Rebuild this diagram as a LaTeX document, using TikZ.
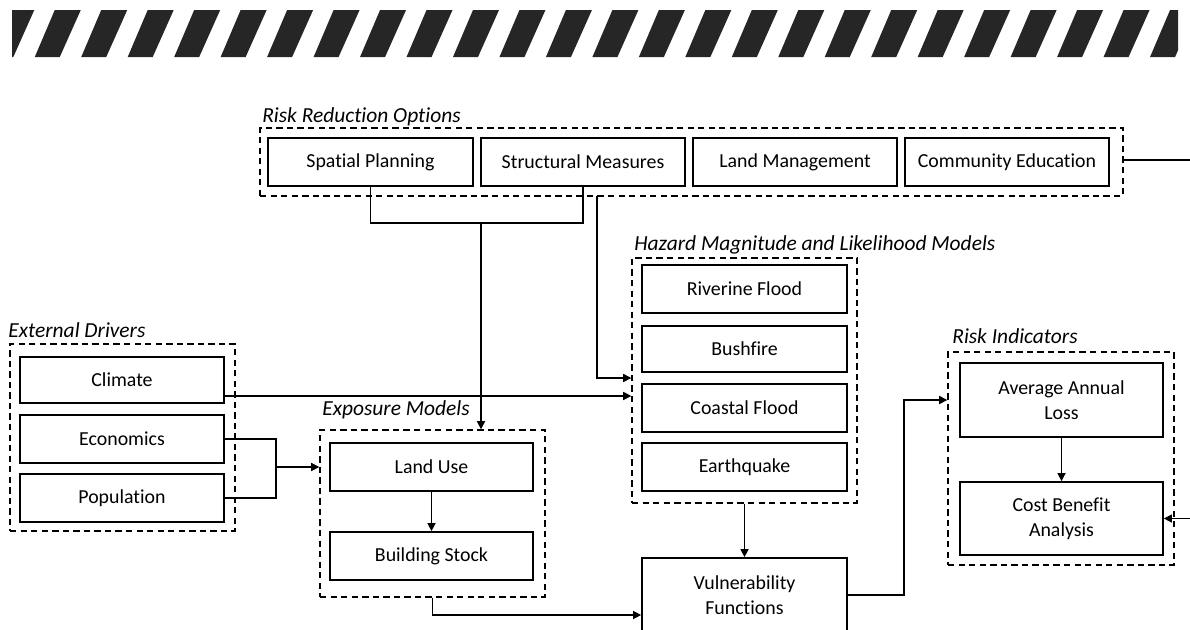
\documentclass[tikz,border=0pt]{standalone}
\usepackage{fontspec}
\setmainfont{Carlito}[Ligatures=NoCommon]
\usepackage{tikz}
\usetikzlibrary{arrows.meta,positioning,calc}
\tikzset{
  riskarrow/.style={-{Triangle[length=4.6pt,width=4.6pt]}, line width=0.8pt},
  risklink/.style={line width=0.8pt},
  grouplabel/.style={font=\fontsize{12.2}{14}\selectfont\itshape, anchor=base west, inner sep=0pt}
}
\definecolor{StripeGrey}{HTML}{262626}

\begin{document}
\begin{tikzpicture}[
  x=0.02cm, y=-0.02cm,
  font=\fontsize{11.3}{14}\selectfont,
  cell/.style={draw, line width=1pt, align=center, minimum width=4.1cm, minimum height=0.96cm, inner sep=2pt},
  group/.style={draw, line width=0.85pt, dash pattern=on 3.6pt off 2.4pt}
]
\useasboundingbox (0,0) rectangle (1190,629);

% hatched band along the top
\begin{scope}
  \clip (12,10) rectangle (1178,57);
  \foreach \k in {0,...,25}
    \fill[StripeGrey] ({-11.7+46.47*\k},57) -- ({13.3+46.47*\k},57) -- ({34.3+46.47*\k},10) -- ({8.3+46.47*\k},10) -- cycle;
\end{scope}

% Risk reduction options
\node[group, minimum width=17.26cm, minimum height=1.36cm] at (691.5,162) (rro) {};
\node[grouplabel] at (262,122) (rrolabel) {Risk Reduction Options};
\node[cell] at (370.5,162) (spatial) {Spatial Planning};
\node[cell, minimum width=4.08cm] at (583,162) (structural) {Structural Measures};
\node[cell, minimum width=4.08cm] at (795,162) (landmgmt) {Land Management};
\node[cell, minimum width=4.08cm] at (1007,162) (community) {Community Education};

% Hazard models
\node[group, minimum width=4.5cm, minimum height=4.9cm] at (744.5,380.5) (hazard) {};
\node[grouplabel] at (634,250) (hazardlabel) {Hazard Magnitude and Likelihood Models};
\node[cell] at (744.5,289) (riverine) {Riverine Flood};
\node[cell, minimum height=0.93cm] at (744.5,349) (bushfire) {Bushfire};
\node[cell] at (744.5,408) (coastal) {Coastal Flood};
\node[cell] at (744.5,467) (earthquake) {Earthquake};

% External drivers
\node[group, minimum width=4.5cm, minimum height=3.74cm] at (122.5,437.5) (drivers) {};
\node[grouplabel] at (8,337) (driverslabel) {External Drivers};
\node[cell, minimum width=4.08cm, minimum height=0.92cm] at (122,380) (climate) {Climate};
\node[cell, minimum width=4.08cm] at (122,439) (economics) {Economics};
\node[cell, minimum width=4.08cm] at (122,498) (population) {Population};

% Exposure models
\node[group, minimum width=4.5cm, minimum height=3.34cm] at (432.5,513.5) (exposure) {};
\node[grouplabel] at (322,415) (exposurelabel) {Exposure Models};
\node[cell, minimum width=4.06cm] at (431.5,467) (landuse) {Land Use};
\node[cell, minimum width=4.06cm] at (431.5,556) (bstock) {Building Stock};

\node[cell, minimum height=1.48cm] at (744.5,595) (vuln) {Vulnerability\\Functions};

% Risk indicators
\node[group, minimum width=4.52cm, minimum height=4.26cm] at (1061,458.5) (indicators) {};
\node[grouplabel] at (952,343) (indicatorslabel) {Risk Indicators};
\node[cell, minimum width=4.06cm, minimum height=1.48cm] at (1061.5,400) (aal) {Average Annual\\Loss};
\node[cell, minimum width=4.06cm, minimum height=1.46cm] at (1061.5,518.5) (cba) {Cost Benefit\\Analysis};

\coordinate (rrojoin) at (481,223);
\coordinate (rrotap) at (597,196);
\coordinate (drvjoin) at (276,467);
\coordinate (rroout) at (1190,160);
\coordinate (cbain) at (1190,518.5);

\draw[risklink] (spatial.south) |- (rrojoin) -| (structural.south);
\draw[riskarrow] (rrojoin) -- (rrojoin |- exposure.north);
\draw[riskarrow] (rrotap) |- ($(hazard.west)+(0,-2.5)$);
\draw[riskarrow] ($(climate.east)+(0,16)$) -- ($(climate.east -| hazard.west)+(0,16)$);
\draw[risklink] (economics.east) -| (drvjoin) |- (population.east);
\draw[riskarrow] (drvjoin) -- (drvjoin -| exposure.west);
\draw[riskarrow] (landuse) -- (bstock);
\draw[riskarrow] (exposure.south) |- ($(vuln.west)+(0,20)$);
\draw[riskarrow] (hazard) -- (vuln);
\draw[riskarrow] (vuln.east) -- ++(56,0) |- (aal -| indicators.west);
\draw[riskarrow] (aal) -- (cba);
\draw[riskarrow] (cbain) -- (cba.east);
\draw[risklink] (rro.east |- rroout) -- (rroout);
\end{tikzpicture}
\end{document}
